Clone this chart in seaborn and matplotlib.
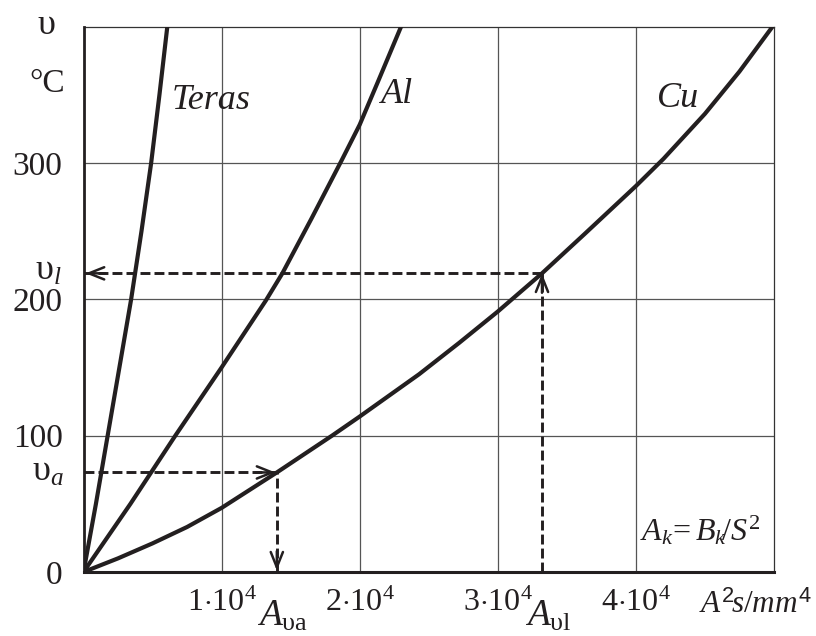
import matplotlib
matplotlib.use("Agg")
import matplotlib.pyplot as plt
import seaborn as sns
import numpy as np
import pandas as pd

# ---------------- data ----------------
cu_A = [0, 0.25e4, 0.5e4, 0.75e4, 1.0e4, 1.4e4, 1.8e4, 2.0e4, 2.43e4, 2.72e4, 3.0e4, 3.32e4,
        3.63e4, 4.0e4, 4.2e4, 4.5e4, 4.75e4, 4.99e4]
cu_T = [0, 10, 21, 33, 47, 73, 100, 114, 145, 168, 191, 219, 248, 283, 303, 336, 367, 400]

al_A = [0, 0.34e4, 0.665e4, 1.0e4, 1.32e4, 1.44e4, 1.65e4, 1.87e4, 2.0e4, 2.13e4, 2.30e4]
al_T = [0, 50, 100, 150, 199, 219, 259, 302, 328, 359, 400]

fe_A = [0, 0.09e4, 0.175e4, 0.26e4, 0.345e4, 0.42e4, 0.49e4, 0.55e4, 0.607e4]
fe_T = [0, 50, 100, 150, 200, 250, 300, 350, 400]

materials = ["Teras", "Al", "Cu"]

theta_l = 219      # upsilon_l
A_l = 3.32e4       # A_upsilon_l
theta_a = 73       # upsilon_a
A_a = 1.40e4       # A_upsilon_a

xticks = [1e4, 2e4, 3e4, 4e4]
xticklabels = [r"1$\cdot$10$^4$", r"2$\cdot$10$^4$", r"3$\cdot$10$^4$", r"4$\cdot$10$^4$"]
yticks = [0, 100, 200, 300]
yticklabels = ["0", "100", "200", "300"]

df = pd.concat([
    pd.DataFrame({"A": fe_A, "theta": fe_T, "mat": "Teras"}),
    pd.DataFrame({"A": al_A, "theta": al_T, "mat": "Al"}),
    pd.DataFrame({"A": cu_A, "theta": cu_T, "mat": "Cu"}),
], ignore_index=True)

# ---------------- style ----------------
sns.set_style("white")
plt.rcParams["font.family"] = ["Liberation Serif", "DejaVu Serif"]
plt.rcParams["mathtext.fontset"] = "custom"
plt.rcParams["mathtext.rm"] = "Liberation Serif"
plt.rcParams["mathtext.it"] = "Liberation Serif:italic"
plt.rcParams["mathtext.bf"] = "Liberation Serif:bold"
plt.rcParams["mathtext.sf"] = "Liberation Sans"

INK = "#231f20"
W, H = 816, 636

fig = plt.figure(figsize=(W / 100, H / 100), dpi=100)
ax = fig.add_axes([83.5 / W, (H - 572) / H, (774 - 83.5) / W, (572 - 26.5) / H])

sns.lineplot(data=df, x="A", y="theta", hue="mat",
             palette={m: INK for m in materials}, legend=False,
             estimator=None, sort=False, lw=3.0, ax=ax, zorder=3)
for ln in ax.get_lines():
    ln.set_solid_joinstyle("round")

ax.set_xlim(0, 5e4)
ax.set_ylim(0, 400)
ax.set_xlabel("")
ax.set_ylabel("")

ax.set_xticks(xticks)
ax.set_xticklabels(xticklabels, fontsize=23)
ax.set_yticks(yticks)
ax.set_yticklabels(yticklabels, fontsize=24)
ax.tick_params(axis="y", length=0, pad=15, colors=INK)
ax.tick_params(axis="x", length=3, width=0.9, direction="out", pad=9, colors=INK)

ax.grid(True, color="#555555", lw=0.9)
ax.set_axisbelow(True)

for side in ["top", "right"]:
    ax.spines[side].set_linewidth(0.9)
    ax.spines[side].set_color("#333333")
ax.spines["left"].set_linewidth(2.0)
ax.spines["left"].set_color(INK)
ax.spines["bottom"].set_linewidth(2.2)
ax.spines["bottom"].set_color(INK)
ax.spines["left"].set_zorder(4)
ax.spines["bottom"].set_zorder(4)

# ---------------- dashed guide lines with arrows ----------------
dash = dict(color=INK, lw=2.1, dashes=(3.4, 1.4), zorder=2, clip_on=False)
head = dict(arrowstyle="->, head_length=0.55, head_width=0.22", color=INK,
            lw=1.8, shrinkA=0, shrinkB=0, mutation_scale=20)

# upsilon_l
ax.plot([0, A_l], [theta_l, theta_l], **dash)
ax.plot([A_l, A_l], [0, theta_l], **dash)
ax.annotate("", xy=(150, theta_l), xytext=(14, 0), textcoords="offset points", arrowprops=head)
ax.annotate("", xy=(A_l, theta_l), xytext=(0, -14), textcoords="offset points", arrowprops=head)

# upsilon_a
ax.plot([0, A_a], [theta_a, theta_a], **dash)
ax.plot([A_a, A_a], [0, theta_a], **dash)
ax.annotate("", xy=(A_a - 100, theta_a), xytext=(-14, 0), textcoords="offset points", arrowprops=head)
ax.annotate("", xy=(A_a, 1), xytext=(0, 14), textcoords="offset points", arrowprops=head)

# ---------------- curve labels ----------------
lab = dict(fontsize=26, fontstyle="italic", color=INK, va="center", ha="left")
ax.text(0.64e4, 346, "Teras", **lab)
ax.text(2.155e4, 350, "Al", **lab)
ax.text(4.15e4, 347, "Cu", **lab)

ax.text(4.03e4, 30, r"$A_k\!= B_k\!/S^{\mathrm{2}}$", fontsize=23, color=INK,
        va="center", ha="left")

# ---------------- axis annotations ----------------
def fx(px):
    return px / W

def fy(py):
    return 1 - py / H

fig.text(fx(46), fy(26), "υ", fontsize=26, color=INK, ha="center", va="center")
fig.text(fx(47), fy(84), "°C", fontsize=24, color=INK, ha="center", va="center")
fig.text(fx(62), fy(271), r"$\mathrm{υ}_{l}$", fontsize=26, color=INK, ha="right", va="center")
fig.text(fx(64), fy(472), r"$\mathrm{υ}_{a}$", fontsize=26, color=INK, ha="right", va="center")

fig.text(fx(257), fy(626), r"$A_{\mathrm{υa}}$", fontsize=27, color=INK, ha="left", va="baseline")
fig.text(fx(525), fy(626), r"$A_{\mathrm{υl}}$", fontsize=27, color=INK, ha="left", va="baseline")

fig.text(fx(699), fy(605), r"$A^{\mathsf{2}}\!s/mm^{\mathsf{4}}$", fontsize=22.5, color=INK,
         ha="left", va="center")

fig.savefig("out.png", dpi=100)
